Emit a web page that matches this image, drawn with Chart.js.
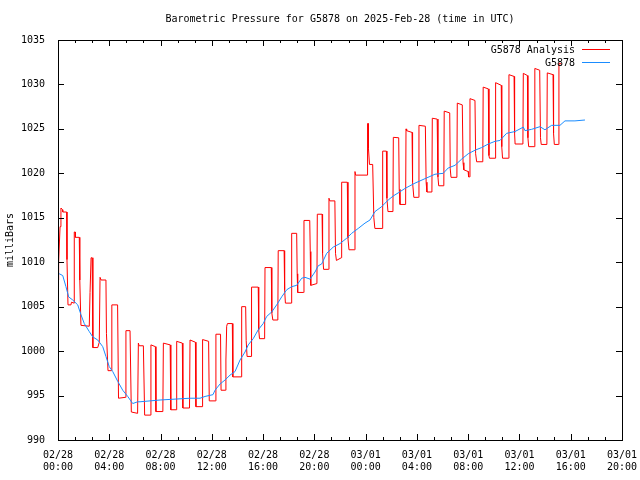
<!DOCTYPE html>
<html>
<head>
<meta charset="utf-8">
<script src="https://cdn.jsdelivr.net/npm/chart.js@4.4.1/dist/chart.umd.min.js"></script>
<style>
  html, body { margin: 0; padding: 0; background: #fff; }
  canvas { display: block; }
</style>
</head>
<body>
<canvas id="grafico" width="640" height="480"></canvas>
<script>
// hours since 02/28 00:00 UTC
const tickHours = [0, 4, 8, 12, 16, 20, 24, 28, 32, 36, 40, 44];
const tickDates = ['02/28', '02/28', '02/28', '02/28', '02/28', '02/28', '03/01', '03/01', '03/01', '03/01', '03/01', '03/01'];
const tickTimes = ['00:00', '04:00', '08:00', '12:00', '16:00', '20:00', '00:00', '04:00', '08:00', '12:00', '16:00', '20:00'];
const yTicks = [990, 995, 1000, 1005, 1010, 1015, 1020, 1025, 1030, 1035];

// G5878 Analysis (red)
const analysisHours = [
  0.00, 0.05, 0.16, 0.23, 0.36, 0.37, 0.68, 0.70, 0.78, 1.01, 1.05, 1.25,
  1.27, 1.35, 1.36, 1.66, 1.70, 1.79, 2.44, 2.50, 2.58, 2.66, 2.72, 3.10,
  3.22, 3.28, 3.36, 3.74, 3.78, 3.90, 4.17, 4.20, 4.65, 4.72, 5.25, 5.30,
  5.62, 5.72, 6.21, 6.27, 6.33, 6.66, 6.76, 7.20, 7.25, 7.60, 7.64, 8.18,
  8.22, 8.75, 8.80, 9.22, 9.26, 9.70, 9.74, 10.26, 10.30, 10.72, 10.76, 11.24,
  11.28, 11.75, 11.80, 12.28, 12.32, 12.68, 12.72, 13.05, 13.10, 13.16, 13.22, 13.60,
  13.64, 14.30, 14.33, 14.64, 14.68, 14.75, 15.08, 15.10, 15.62, 15.66, 15.72, 16.12,
  16.15, 16.64, 16.68, 16.76, 17.15, 17.18, 17.64, 17.68, 17.74, 18.20, 18.23, 18.62,
  18.66, 18.70, 19.16, 19.19, 19.64, 19.68, 19.72, 20.20, 20.23, 20.60, 20.64, 20.72,
  21.10, 21.14, 21.20, 21.60, 21.65, 21.72, 22.10, 22.13, 22.57, 22.62, 22.70, 23.14,
  23.17, 23.22, 24.13, 24.15, 24.20, 24.22, 24.30, 24.55, 24.64, 24.72, 25.30, 25.33,
  25.62, 25.66, 25.74, 26.13, 26.16, 26.58, 26.62, 26.68, 27.12, 27.15, 27.20, 27.62,
  27.66, 27.76, 28.13, 28.16, 28.66, 28.72, 28.78, 29.17, 29.20, 29.58, 29.64, 29.70,
  30.10, 30.13, 30.56, 30.60, 30.66, 31.12, 31.15, 31.54, 31.60, 31.66, 32.00, 32.03,
  32.10, 32.14, 32.53, 32.58, 32.66, 33.14, 33.17, 33.57, 33.62, 33.66, 34.11, 34.14,
  34.58, 34.62, 34.68, 35.15, 35.18, 35.58, 35.62, 35.66, 36.27, 36.30, 36.62, 36.66,
  36.72, 37.17, 37.20, 37.58, 37.64, 37.70, 38.14, 38.17, 38.62, 38.66, 38.72, 39.05,
  39.08, 39.28
];
const analysisMb = [
  1008.0, 1010.0, 1014.0, 1016.1, 1015.9, 1015.65, 1015.65, 1010.3, 1005.2, 1005.2, 1005.5, 1005.4,
  1013.4, 1013.4, 1012.8, 1012.8, 1008.0, 1002.9, 1002.8, 1006.6, 1010.5, 1010.5, 1000.4, 1000.4,
  1001.0, 1008.3, 1008.0, 1008.0, 1002.0, 997.8, 997.8, 1005.2, 1005.2, 994.7, 994.8, 1002.3,
  1002.3, 993.15, 993.0, 1000.9, 1000.6, 1000.6, 992.8, 992.8, 1000.7, 1000.5, 993.2, 993.2,
  1000.9, 1000.7, 993.4, 993.4, 1001.1, 1000.9, 993.6, 993.6, 1001.25, 1001.0, 993.75, 993.75,
  1001.3, 1001.1, 994.4, 994.4, 1001.9, 1001.9, 995.6, 995.6, 999.0, 1002.8, 1003.1, 1003.1,
  997.1, 997.1, 1005.0, 1005.0, 1001.2, 999.4, 999.4, 1007.2, 1007.2, 1002.4, 1001.4, 1001.4,
  1009.4, 1009.4, 1004.3, 1003.5, 1003.5, 1011.3, 1011.3, 1006.9, 1005.4, 1005.4, 1013.25, 1013.25,
  1008.7, 1006.6, 1006.6, 1014.7, 1014.7, 1011.2, 1007.4, 1007.6, 1015.4, 1015.4, 1011.0, 1009.2,
  1009.2, 1017.2, 1016.9, 1016.9, 1011.0, 1010.2, 1010.5, 1019.0, 1019.0, 1012.7, 1011.4, 1011.4,
  1020.2, 1019.8, 1019.8, 1025.6, 1025.6, 1022.8, 1021.0, 1021.0, 1015.0, 1013.8, 1013.8, 1022.5,
  1022.5, 1017.2, 1015.7, 1015.7, 1024.05, 1024.0, 1018.2, 1016.5, 1016.5, 1025.0, 1024.8, 1024.6,
  1019.0, 1017.3, 1017.3, 1025.4, 1025.3, 1019.0, 1017.9, 1017.9, 1026.2, 1026.1, 1019.6, 1018.6,
  1018.6, 1027.0, 1026.8, 1020.5, 1019.55, 1019.55, 1027.9, 1027.7, 1021.2, 1020.4, 1020.2, 1019.6,
  1019.6, 1028.4, 1028.2, 1022.2, 1021.3, 1021.3, 1029.7, 1029.5, 1022.0, 1021.7, 1021.7, 1030.2,
  1029.9, 1023.0, 1021.7, 1021.7, 1031.1, 1030.9, 1024.5, 1023.3, 1023.3, 1031.25, 1031.0, 1024.0,
  1023.0, 1023.0, 1031.8, 1031.6, 1024.0, 1023.25, 1023.25, 1031.3, 1031.1, 1024.5, 1023.25, 1023.25,
  1032.4, 1032.3
];

// G5878 observed (blue)
const obsHours = [
  0.00, 0.10, 0.37, 0.62, 0.83, 1.15, 1.54, 1.79, 2.05, 2.44, 2.71, 3.10,
  3.49, 3.74, 4.00, 4.27, 4.66, 5.05, 5.44, 5.83, 6.22, 6.40, 7.18, 7.96,
  9.13, 10.30, 11.08, 11.47, 12.09, 12.25, 12.64, 13.03, 13.42, 13.81, 14.20, 14.59,
  14.84, 15.23, 15.62, 16.01, 16.28, 16.67, 17.06, 17.45, 17.84, 18.23, 18.62, 19.01,
  19.27, 19.66, 20.05, 20.30, 20.57, 20.96, 21.47, 22.00, 22.52, 22.91, 23.42, 23.95,
  24.34, 24.73, 25.25, 25.76, 26.15, 26.54, 27.07, 27.46, 27.85, 28.63, 29.41, 30.05,
  30.44, 30.97, 31.49, 32.00, 32.53, 33.05, 33.57, 34.09, 34.48, 35.00, 35.65, 36.30,
  36.43, 36.95, 37.60, 37.99, 38.51, 39.16, 39.55, 40.33, 41.11
];
const obsMb = [
  1008.8, 1008.7, 1008.5, 1007.25, 1006.1, 1005.75, 1005.2, 1004.1, 1003.1, 1002.2, 1001.6, 1001.25,
  1000.5, 999.4, 998.25, 997.7, 996.6, 995.6, 994.9, 994.1, 994.3, 994.3, 994.4, 994.5,
  994.6, 994.7, 994.7, 994.9, 995.1, 995.6, 996.3, 996.75, 997.3, 997.7, 999.0, 999.9,
  1000.7, 1001.4, 1002.4, 1003.1, 1003.9, 1004.4, 1005.2, 1006.1, 1006.9, 1007.25, 1007.4, 1008.2,
  1008.3, 1008.1, 1008.9, 1009.6, 1009.8, 1011.0, 1011.7, 1012.1, 1012.7, 1013.25, 1013.8, 1014.4,
  1014.75, 1015.7, 1016.25, 1017.0, 1017.45, 1017.8, 1018.3, 1018.6, 1018.9, 1019.4, 1019.9, 1020.0,
  1020.6, 1020.9, 1021.6, 1022.2, 1022.6, 1022.9, 1023.3, 1023.6, 1023.7, 1024.5, 1024.7, 1025.2,
  1024.8, 1024.95, 1025.25, 1024.9, 1025.4, 1025.4, 1025.9, 1025.9, 1026.0
];

const chartTitle = 'Barometric Pressure for G5878 on 2025-Feb-28 (time in UTC)';
const seriesNames = ['G5878 Analysis', 'G5878'];
const seriesColors = ['#ff0000', '#1a8cff'];

const FONT = { family: "'DejaVu Sans Mono', 'Liberation Mono', monospace", size: 10, lineHeight: 1.2 };
const FONT_CSS = "10px 'DejaVu Sans Mono', 'Liberation Mono', monospace";

// gnuplot-like frame, inward ticks, title and key
const gnuplotFrame = {
  id: 'gnuplotFrame',
  afterDraw(chart) {
    const ctx = chart.ctx;
    const a = chart.chartArea;
    const xs = chart.scales.x;
    const ys = chart.scales.y;
    ctx.save();
    ctx.strokeStyle = '#000';
    ctx.lineWidth = 1;
    ctx.strokeRect(a.left + 0.5, a.top + 0.5, a.right - a.left, a.bottom - a.top);

    ctx.beginPath();
    const minorStep = 4 / 3;
    for (let h = 0; h <= 44.001; h += minorStep) {
      const px = Math.round(xs.getPixelForValue(h)) + 0.5;
      const major = Math.abs(h / 4 - Math.round(h / 4)) < 0.01;
      const len = major ? 6 : 3;
      ctx.moveTo(px, a.bottom); ctx.lineTo(px, a.bottom - len);
      ctx.moveTo(px, a.top); ctx.lineTo(px, a.top + len);
    }
    yTicks.forEach(v => {
      const py = Math.round(ys.getPixelForValue(v)) + 0.5;
      ctx.moveTo(a.left, py); ctx.lineTo(a.left + 6, py);
      ctx.moveTo(a.right, py); ctx.lineTo(a.right - 6, py);
    });
    ctx.stroke();

    ctx.fillStyle = '#000';
    ctx.font = FONT_CSS;
    ctx.textBaseline = 'middle';
    ctx.textAlign = 'center';
    ctx.fillText(chartTitle, (a.left + a.right) / 2, 19);

    ctx.textAlign = 'right';
    seriesNames.forEach((name, i) => {
      const y = 50 + i * 13;
      ctx.fillText(name, 575, y);
      ctx.strokeStyle = seriesColors[i];
      ctx.beginPath();
      ctx.moveTo(582, y - 0.5);
      ctx.lineTo(610, y - 0.5);
      ctx.stroke();
    });
    ctx.restore();
  }
};

const ctx = document.getElementById('grafico').getContext('2d');
new Chart(ctx, {
  type: 'line',
  data: {
    datasets: [
      {
        label: seriesNames[0],
        data: analysisHours.map((h, i) => ({ x: h, y: analysisMb[i] })),
        borderColor: seriesColors[0],
        borderWidth: 1,
        pointRadius: 0,
        tension: 0,
        fill: false,
        order: 1
      },
      {
        label: seriesNames[1],
        data: obsHours.map((h, i) => ({ x: h, y: obsMb[i] })),
        borderColor: seriesColors[1],
        borderWidth: 1,
        pointRadius: 0,
        tension: 0,
        fill: false,
        order: 0
      }
    ]
  },
  options: {
    responsive: false,
    animation: false,
    devicePixelRatio: 1,
    layout: { padding: { top: 40, right: 18, bottom: 0, left: 0 } },
    plugins: {
      legend: { display: false },
      title: { display: false },
      tooltip: { enabled: false }
    },
    scales: {
      x: {
        type: 'linear',
        min: 0,
        max: 44,
        grid: { display: false },
        border: { display: false },
        afterBuildTicks: s => { s.ticks = tickHours.map(v => ({ value: v })); },
        afterFit: s => { s.height = 40; s.paddingLeft = 0; s.paddingRight = 0; },
        ticks: {
          autoSkip: false,
          maxRotation: 0,
          padding: 1,
          color: '#000',
          font: FONT,
          callback: v => {
            const i = tickHours.indexOf(v);
            return [tickDates[i], tickTimes[i]];
          }
        }
      },
      y: {
        min: 990,
        max: 1035,
        grid: { display: false },
        border: { display: false },
        afterBuildTicks: s => { s.ticks = yTicks.map(v => ({ value: v })); },
        afterFit: s => { s.width = 58; s.paddingTop = 0; s.paddingBottom = 0; },
        ticks: { padding: 5, color: '#000', font: FONT, callback: v => String(v) },
        title: { display: true, text: 'milliBars', color: '#000', font: FONT, padding: 4 }
      }
    }
  },
  plugins: [gnuplotFrame]
});
</script>
</body>
</html>
